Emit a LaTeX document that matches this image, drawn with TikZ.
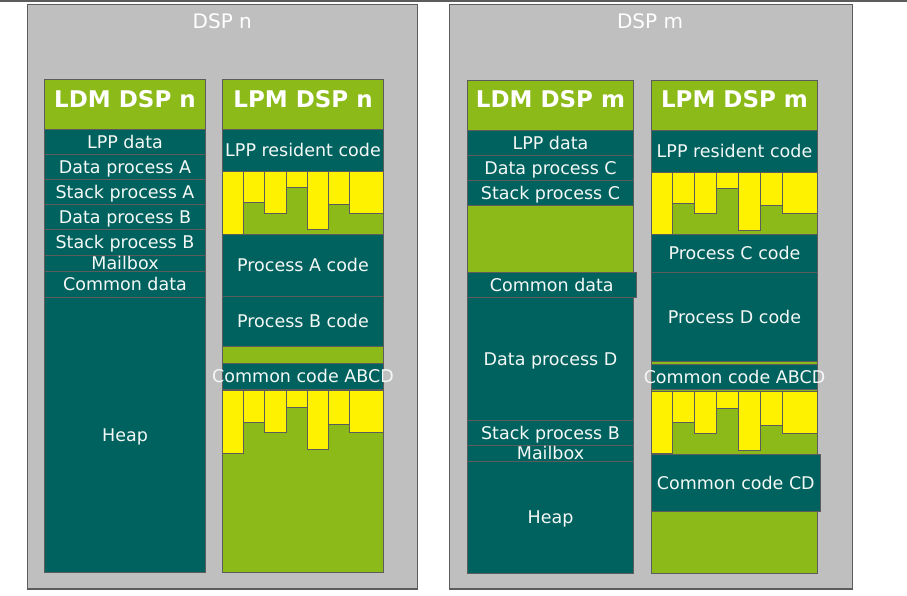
\documentclass[tikz,border=0pt]{standalone}
\usepackage{fontspec}
\setmainfont{DejaVu Sans}
\definecolor{dspgray}{HTML}{BFBFBF}
\definecolor{edge}{HTML}{5C5C5C}
\definecolor{teal}{HTML}{00625F}
\definecolor{leaf}{HTML}{8BBA19}
\definecolor{ink}{HTML}{F4F8F6}
\tikzset{
  dspbox/.style={fill=dspgray, draw=edge, line width=1.2pt},
  tealcell/.style={fill=teal, draw=edge, line width=0.8pt},
  greencell/.style={fill=leaf, draw=edge, line width=0.8pt},
  yellowbar/.style={fill=yellow, draw=edge, line width=0.8pt},
  lbl/.style={text=ink, inner sep=0pt, text height=12.8pt, text depth=0pt,
    font=\fontsize{17.5pt}{20pt}\selectfont},
  headlbl/.style={text=white, inner sep=0pt, anchor=base,
    font=\fontsize{23pt}{26pt}\selectfont\bfseries},
  dsplbl/.style={text=white, inner sep=0pt, anchor=base,
    font=\fontsize{20pt}{24pt}\selectfont},
}
% #1 style, #2 name, #3 x1, #4 y1, #5 x2, #6 y2, #7 text
\newcommand{\memcell}[7]{%
  \draw[#1] (#3,#4) rectangle (#5,#6);
  \node[lbl] (#2) at ({(#3+#5)/2},{(#4+#6)/2}) {#7};}
% code overlay bars: #1 top, #2 list of x1/x2/bottom
\newcommand{\codebars}[2]{%
  \foreach \xa/\xb/\yb in {#2} {\draw[yellowbar] (\xa,#1) rectangle (\xb,\yb);}}
\begin{document}
\begin{tikzpicture}[x=1pt,y=-1pt]
\useasboundingbox (0,0) rectangle (907,595);
\draw[edge, line width=1.4pt] (0,0.8) -- (907,0.8);

% ---------------- DSP n ----------------
\draw[dspbox] (27.3,4.3) rectangle (417.3,589);
\node[dsplbl] (dspn) at (222.3,28.3) {DSP n};

% LDM DSP n
\draw[tealcell] (44.3,79.3) rectangle (205.7,572.3);
\draw[greencell] (44.3,79.3) rectangle (205.7,129.3);
\node[headlbl] (ldmn) at (125,107.3) {LDM DSP n};
\memcell{tealcell}{ldmnA}{44.3}{129.3}{205.7}{154.3}{LPP data}
\memcell{tealcell}{ldmnB}{44.3}{154.3}{205.7}{179.3}{Data process A}
\memcell{tealcell}{ldmnC}{44.3}{179.3}{205.7}{204.3}{Stack process A}
\memcell{tealcell}{ldmnD}{44.3}{204.3}{205.7}{229.3}{Data process B}
\memcell{tealcell}{ldmnE}{44.3}{229.3}{205.7}{255.3}{Stack process B}
\memcell{tealcell}{ldmnF}{44.3}{255.3}{205.7}{271.7}{Mailbox}
\memcell{tealcell}{ldmnG}{44.3}{271.7}{205.7}{297}{Common data}
\memcell{tealcell}{ldmnH}{44.3}{297}{205.7}{572.3}{Heap}

% LPM DSP n
\draw[greencell] (222.3,79.3) rectangle (383.7,572.3);
\node[headlbl] (lpmn) at (303,107.3) {LPM DSP n};
\memcell{tealcell}{lpmnA}{222.3}{129.3}{383.7}{171.7}{LPP resident code}
\codebars{171.7}{222.3/243.3/234, 243.3/264.5/202, 264.5/286.7/213.3, 286.7/307.3/187,
  307.3/328.7/229, 328.7/349.3/204.3, 349.3/383.7/213}
\memcell{tealcell}{lpmnB}{222.3}{234}{383.7}{296.3}{Process A code}
\memcell{tealcell}{lpmnC}{222.3}{296.3}{383.7}{346.7}{Process B code}
\memcell{tealcell}{lpmnD}{222.3}{363.3}{383.7}{389}{Common code ABCD}
\codebars{390.5}{222.3/243.3/453.3, 243.3/264.5/422.3, 264.5/286.7/432.3, 286.7/307.3/407.3,
  307.3/328.7/449.3, 328.7/349.3/424.7, 349.3/383.7/432.3}

% ---------------- DSP m ----------------
\draw[dspbox] (449.3,4.3) rectangle (852.3,589);
\node[dsplbl] (dspm) at (650,28.3) {DSP m};

% LDM DSP m
\draw[greencell] (467.3,80) rectangle (633.7,573.3);
\node[headlbl] (ldmm) at (550.5,107.3) {LDM DSP m};
\memcell{tealcell}{ldmmA}{467.3}{130.7}{633.7}{155.3}{LPP data}
\memcell{tealcell}{ldmmB}{467.3}{155.3}{633.7}{180.7}{Data process C}
\memcell{tealcell}{ldmmC}{467.3}{180.7}{633.7}{205.3}{Stack process C}
\memcell{tealcell}{ldmmE}{467.3}{297.3}{633.7}{420.3}{Data process D}
\memcell{tealcell}{ldmmF}{467.3}{420.3}{633.7}{445.3}{Stack process B}
\memcell{tealcell}{ldmmG}{467.3}{445.3}{633.7}{461.3}{Mailbox}
\memcell{tealcell}{ldmmH}{467.3}{461.3}{633.7}{573.3}{Heap}
\memcell{tealcell}{ldmmD}{467.3}{272.7}{636.3}{297.3}{Common data}

% LPM DSP m
\draw[greencell] (651.3,80) rectangle (817.7,573.3);
\node[headlbl] (lpmm) at (734.5,107.3) {LPM DSP m};
\memcell{tealcell}{lpmmA}{651.3}{130.7}{817.7}{172.3}{LPP resident code}
\codebars{172.3}{651.3/672.3/234, 672.3/694.3/203, 694.3/716.7/213.3, 716.7/738.3/188,
  738.3/760.3/230, 760.3/782.3/205.3, 782.3/817.7/213.3}
\memcell{tealcell}{lpmmB}{651.3}{234}{817.7}{272.3}{Process C code}
\memcell{tealcell}{lpmmC}{651.3}{272.3}{817.7}{361.7}{Process D code}
\memcell{tealcell}{lpmmD}{651.3}{364.7}{817.7}{389.3}{Common code ABCD}
\codebars{391.3}{651.3/672.3/453.3, 672.3/694.3/422.3, 694.3/716.7/433.3, 716.7/738.3/408.3,
  738.3/760.3/450.3, 760.3/782.3/425.3, 782.3/817.7/433.3}
\memcell{tealcell}{lpmmE}{651.3}{454}{820.3}{511.3}{Common code CD}
\end{tikzpicture}
\end{document}
